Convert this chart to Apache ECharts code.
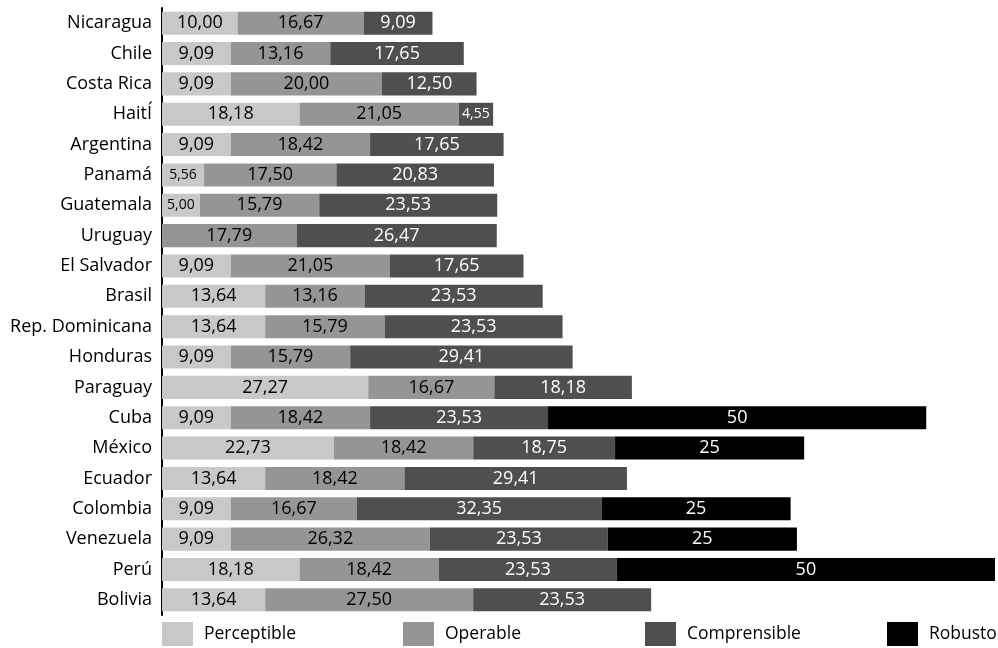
<!DOCTYPE html>
<html>
<head>
<meta charset="utf-8">
<script src="https://cdn.jsdelivr.net/npm/echarts@6/dist/echarts.min.js"></script>
<style>
  html, body { margin: 0; padding: 0; background: #ffffff; }
  #chart { width: 998px; height: 648px; }
</style>
</head>
<body>
<div id="chart"></div>
<script>
// Countries, top to bottom
const countries = ['Nicaragua', 'Chile', 'Costa Rica', 'HaitÍ', 'Argentina', 'Panamá', 'Guatemala',
  'Uruguay', 'El Salvador', 'Brasil', 'Rep. Dominicana', 'Honduras', 'Paraguay', 'Cuba',
  'México', 'Ecuador', 'Colombia', 'Venezuela', 'Perú', 'Bolivia'];

const seriesNames = ['Perceptible', 'Operable', 'Comprensible', 'Robusto'];

const perceptible = [10.00, 9.09, 9.09, 18.18, 9.09, 5.56, 5.00, 0, 9.09, 13.64,
  13.64, 9.09, 27.27, 9.09, 22.73, 13.64, 9.09, 9.09, 18.18, 13.64];
const operable = [16.67, 13.16, 20.00, 21.05, 18.42, 17.50, 15.79, 17.79, 21.05, 13.16,
  15.79, 15.79, 16.67, 18.42, 18.42, 18.42, 16.67, 26.32, 18.42, 27.50];
const comprensible = [9.09, 17.65, 12.50, 4.55, 17.65, 20.83, 23.53, 26.47, 17.65, 23.53,
  23.53, 29.41, 18.18, 23.53, 18.75, 29.41, 32.35, 23.53, 23.53, 23.53];
const robusto = [0, 0, 0, 0, 0, 0, 0, 0, 0, 0,
  0, 0, 0, 50, 25, 0, 25, 25, 50, 0];

const values = [perceptible, operable, comprensible, robusto];
const colors = ['#c8c8c8', '#959595', '#4f4f4f', '#000000'];
const labelColors = ['#000000', '#000000', '#ffffff', '#ffffff'];
const decimals = [2, 2, 2, 0];

const FONT = '"Open Sans", "Noto Sans", sans-serif';

function fmt(v, d) {
  return v.toFixed(d).replace('.', ',');
}

const series = values.map((arr, si) => ({
  name: seriesNames[si],
  type: 'bar',
  stack: 'total',
  barCategoryGap: '24%',
  itemStyle: { color: colors[si] },
  // narrow segments get a smaller label so the text fits
  data: arr.map(v => ({
    value: v,
    label: { fontSize: v < 6 ? 14 : 18 }
  })),
  label: {
    show: true,
    position: 'inside',
    color: labelColors[si],
    fontFamily: FONT,
    fontSize: 18,
    formatter: p => (p.value ? fmt(p.value, decimals[si]) : '')
  },
  emphasis: { disabled: true }
}));

const legendLeft = [162, 403, 645, 887];
const legends = seriesNames.map((n, i) => ({
  data: [n],
  left: legendLeft[i],
  top: 622,
  padding: 0,
  icon: 'rect',
  itemWidth: 31,
  itemHeight: 24,
  selectedMode: false,
  textStyle: { fontFamily: FONT, fontSize: 17.5, color: '#000', padding: [4, 0, 0, 6] }
}));

const chart = echarts.init(document.getElementById('chart'), null, { renderer: 'canvas' });
chart.setOption({
  animation: false,
  backgroundColor: '#ffffff',
  grid: { left: 162, right: 3, top: 8, height: 607, containLabel: false },
  legend: legends,
  xAxis: {
    type: 'value',
    min: 0,
    max: v => v.max,
    show: false
  },
  yAxis: {
    type: 'category',
    inverse: true,
    data: countries,
    axisTick: { show: false },
    axisLine: { show: true, lineStyle: { color: '#000', width: 2 } },
    axisLabel: { fontFamily: FONT, fontSize: 18, color: '#000', margin: 10 },
    splitLine: { show: false }
  },
  series: series
});
</script>
</body>
</html>
